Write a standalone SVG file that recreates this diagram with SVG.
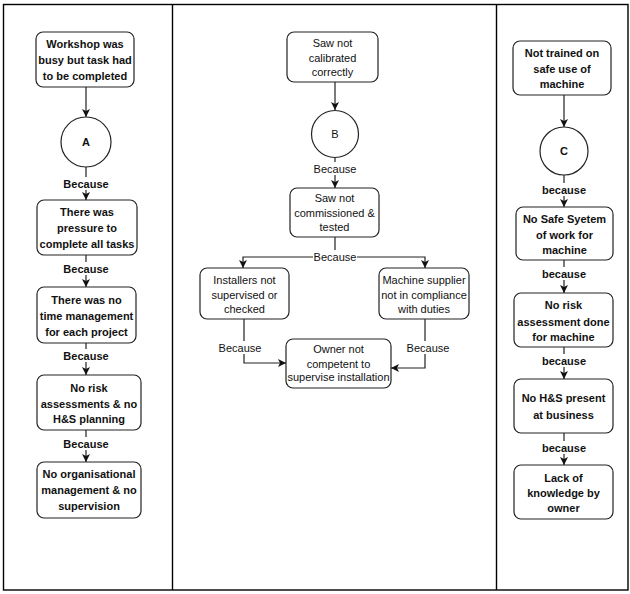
<svg xmlns="http://www.w3.org/2000/svg" width="630" height="594" viewBox="0 0 630 594">
<defs>
<marker id="arr" markerUnits="userSpaceOnUse" markerWidth="10" markerHeight="10" refX="8" refY="4" orient="auto">
<path d="M0,0 L8,4 L0,8 L2,4 z" fill="#111"/>
</marker>
<style>
.box{fill:#fff;stroke:#222;stroke-width:1.2}
.circ{fill:#fff;stroke:#222;stroke-width:1.2}
.t{font-family:"Liberation Sans",Arial,sans-serif;font-size:11px;fill:#111;text-anchor:middle}
.b{font-weight:bold}
.c{fill:none;stroke:#222;stroke-width:1.2}
.lbg{fill:#fff}
.frame{fill:none;stroke:#000;stroke-width:1.4}
</style>
</defs>
<rect width="630" height="594" fill="#fff"/>
<g id="frame">
<rect class="frame" x="3.5" y="4.5" width="624.5" height="585.5"/>
<line class="frame" x1="172.5" y1="4.5" x2="172.5" y2="590"/>
<line class="frame" x1="496.5" y1="4.5" x2="496.5" y2="590"/>
</g>
<g id="connectors">
<line class="c" x1="86" y1="87" x2="86" y2="117" marker-end="url(#arr)"/>
<line class="c" x1="86" y1="167" x2="86" y2="200" marker-end="url(#arr)"/>
<line class="c" x1="86" y1="255" x2="86" y2="287" marker-end="url(#arr)"/>
<line class="c" x1="86" y1="343" x2="86" y2="375" marker-end="url(#arr)"/>
<line class="c" x1="86" y1="430" x2="86" y2="462" marker-end="url(#arr)"/>
<line class="c" x1="335" y1="82" x2="335" y2="110" marker-end="url(#arr)"/>
<line class="c" x1="335" y1="157" x2="335" y2="188" marker-end="url(#arr)"/>
<polyline class="c" points="335,237 335,257 243,257 243,268" marker-end="url(#arr)"/>
<polyline class="c" points="335,257 425,257 425,268" marker-end="url(#arr)"/>
<polyline class="c" points="244,319 244,363 286,363" marker-end="url(#arr)"/>
<polyline class="c" points="425,319 425,368 391,368" marker-end="url(#arr)"/>
<line class="c" x1="564" y1="95" x2="564" y2="127" marker-end="url(#arr)"/>
<line class="c" x1="564" y1="175" x2="564" y2="207" marker-end="url(#arr)"/>
<line class="c" x1="564" y1="260" x2="564" y2="293" marker-end="url(#arr)"/>
<line class="c" x1="564" y1="347" x2="564" y2="379" marker-end="url(#arr)"/>
<line class="c" x1="564" y1="433" x2="564" y2="465" marker-end="url(#arr)"/>
<g id="labels">
<rect class="lbg" x="62" y="177" width="48" height="13"/><text class="t b" x="86" y="188">Because</text>
<rect class="lbg" x="62" y="262" width="48" height="13"/><text class="t b" x="86" y="273">Because</text>
<rect class="lbg" x="62" y="349" width="48" height="13"/><text class="t b" x="86" y="360">Because</text>
<rect class="lbg" x="62" y="437" width="48" height="13"/><text class="t b" x="86" y="448">Because</text>
<rect class="lbg" x="313" y="162" width="44" height="13"/><text class="t" x="335" y="173">Because</text>
<rect class="lbg" x="313" y="250" width="44" height="13"/><text class="t" x="335" y="261">Because</text>
<rect class="lbg" x="218" y="341" width="44" height="13"/><text class="t" x="240" y="352">Because</text>
<rect class="lbg" x="406" y="341" width="44" height="13"/><text class="t" x="428" y="352">Because</text>
<rect class="lbg" x="541" y="183" width="46" height="13"/><text class="t b" x="564" y="194">because</text>
<rect class="lbg" x="541" y="267" width="46" height="13"/><text class="t b" x="564" y="278">because</text>
<rect class="lbg" x="541" y="354" width="46" height="13"/><text class="t b" x="564" y="365">because</text>
<rect class="lbg" x="541" y="441" width="46" height="13"/><text class="t b" x="564" y="452">because</text>
</g>
</g>
<g id="a1"><rect class="box" x="36" y="32" width="98" height="55" rx="7"/>
<text class="t b" x="85" y="48">Workshop was</text><text class="t b" x="85" y="64">busy but task had</text><text class="t b" x="85" y="80">to be completed</text></g>
<g id="a"><circle class="circ" cx="86" cy="142" r="25"/><text class="t b" x="86" y="146">A</text></g>
<g id="a2"><rect class="box" x="37" y="200" width="100" height="55" rx="7"/>
<text class="t b" x="87" y="216">There was</text><text class="t b" x="87" y="232">pressure to</text><text class="t b" x="87" y="248">complete all tasks</text></g>
<g id="a3"><rect class="box" x="37" y="287" width="99" height="56" rx="7"/>
<text class="t b" x="86.5" y="304">There was no</text><text class="t b" x="86.5" y="320">time management</text><text class="t b" x="86.5" y="336">for each project</text></g>
<g id="a4"><rect class="box" x="37" y="375" width="104" height="55" rx="7"/>
<text class="t b" x="89" y="392">No risk</text><text class="t b" x="89" y="408">assessments &amp; no</text><text class="t b" x="89" y="423">H&amp;S planning</text></g>
<g id="a5"><rect class="box" x="37" y="462" width="104" height="56" rx="7"/>
<text class="t b" x="89" y="478">No organisational</text><text class="t b" x="89" y="494">management &amp; no</text><text class="t b" x="89" y="510">supervision</text></g>
<g id="b1"><rect class="box" x="287" y="32" width="91" height="50" rx="7"/>
<text class="t" x="332.5" y="47">Saw not</text><text class="t" x="332.5" y="62">calibrated</text><text class="t" x="332.5" y="76">correctly</text></g>
<g id="b"><circle class="circ" cx="335" cy="134" r="23.5"/><text class="t" x="335" y="138">B</text></g>
<g id="b2"><rect class="box" x="290" y="188" width="89" height="49" rx="7"/>
<text class="t" x="334.5" y="202">Saw not</text><text class="t" x="334.5" y="217">commissioned &amp;</text><text class="t" x="334.5" y="231">tested</text></g>
<g id="b3"><rect class="box" x="200" y="268" width="89" height="51" rx="7"/>
<text class="t" x="244.5" y="284">Installers not</text><text class="t" x="244.5" y="299">supervised or</text><text class="t" x="244.5" y="313">checked</text></g>
<g id="b4"><rect class="box" x="379" y="268" width="90" height="51" rx="7"/>
<text class="t" x="424" y="284">Machine supplier</text><text class="t" x="424" y="299">not in compliance</text><text class="t" x="424" y="313">with duties</text></g>
<g id="b5"><rect class="box" x="286" y="339" width="105" height="49" rx="7"/>
<text class="t" x="338.5" y="353">Owner not</text><text class="t" x="338.5" y="368">competent to</text><text class="t" x="338.5" y="381">supervise installation</text></g>
<g id="c1"><rect class="box" x="513" y="41" width="98" height="54" rx="7"/>
<text class="t b" x="562" y="57">Not trained on</text><text class="t b" x="562" y="73">safe use of</text><text class="t b" x="562" y="88">machine</text></g>
<g id="c"><circle class="circ" cx="564" cy="151" r="24"/><text class="t b" x="564" y="155">C</text></g>
<g id="c2"><rect class="box" x="516" y="207" width="97" height="53" rx="7"/>
<text class="t b" x="564.5" y="223">No Safe Syetem</text><text class="t b" x="564.5" y="239">of work for</text><text class="t b" x="564.5" y="254">machine</text></g>
<g id="c3"><rect class="box" x="514" y="293" width="99" height="54" rx="7"/>
<text class="t b" x="563.5" y="309">No risk</text><text class="t b" x="563.5" y="326">assessment done</text><text class="t b" x="563.5" y="341">for machine</text></g>
<g id="c4"><rect class="box" x="514" y="379" width="99" height="54" rx="7"/>
<text class="t b" x="563.5" y="402">No H&amp;S present</text><text class="t b" x="563.5" y="419">at business</text></g>
<g id="c5"><rect class="box" x="514" y="465" width="99" height="54" rx="7"/>
<text class="t b" x="563.5" y="482">Lack of</text><text class="t b" x="563.5" y="497">knowledge by</text><text class="t b" x="563.5" y="512">owner</text></g>
</svg>
